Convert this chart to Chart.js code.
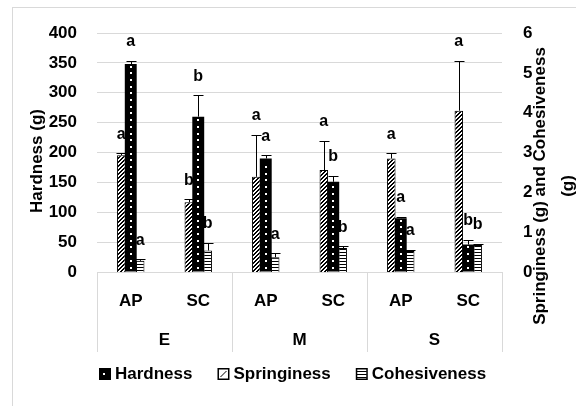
<!DOCTYPE html>
<html>
<head>
<meta charset="utf-8">
<script src="https://cdn.jsdelivr.net/npm/chart.js@4.4.1/dist/chart.umd.min.js"></script>
<style>
  html, body { margin: 0; padding: 0; background: #fff; }
  #wrap { width: 576px; height: 406px; position: relative; }
</style>
</head>
<body>
<div id="wrap"><canvas id="chart"></canvas></div>
<script>
// Texture profile by storage group (E, M, S) and treatment (AP, SC)
const groups = ['E', 'M', 'S'];
const treatments = ['AP', 'SC', 'AP', 'SC', 'AP', 'SC'];

const hardness = [348, 260, 190, 151, 90, 46];
const hardnessErr = [5, 36, 5, 10, 2, 8];
const springiness = [2.93, 1.75, 2.39, 2.56, 2.85, 4.05];
const springinessErr = [0.05, 0.08, 1.05, 0.73, 0.13, 1.25];
const cohesiveness = [0.28, 0.54, 0.37, 0.60, 0.53, 0.68];
const cohesivenessErr = [0.04, 0.20, 0.10, 0.05, 0.03, 0.03];

const hardnessLetters = ['a', 'b', 'a', 'b', 'a', 'b'];
const springinessLetters = ['a', 'b', 'a', 'a', 'a', 'a'];
const cohesivenessLetters = ['a', 'b', 'a', 'b', 'a', 'b'];

const leftTicks = [0, 50, 100, 150, 200, 250, 300, 350, 400];
const rightTicks = [0, 1, 2, 3, 4, 5, 6];

const FONT = "'Liberation Sans', Arial, sans-serif";
const GRID = '#d9d9d9';

// Fill textures
function makePattern(kind) {
  const c = document.createElement('canvas');
  const g = c.getContext('2d');
  if (kind === 'diag') {
    c.width = 4; c.height = 4;
    g.fillStyle = '#fff'; g.fillRect(0, 0, 4, 4);
    g.fillStyle = '#000';
    // stair-stepped upward diagonal, two pixels thick
    for (let k = 0; k < 4; k++) {
      g.fillRect(k, 3 - k, 1, 1);
      g.fillRect((k + 1) % 4, 3 - k, 1, 1);
    }
  } else {
    c.width = 2; c.height = 3;
    g.fillStyle = '#fff'; g.fillRect(0, 0, 2, 3);
    g.fillStyle = '#000'; g.fillRect(0, 0, 2, 1);
  }
  return g.createPattern(c, 'repeat');
}
const ctxMain = document.getElementById('chart').getContext('2d');
const diagPattern = makePattern('diag');
const stripePattern = makePattern('stripe');

// Error bars, significance letters and dotted texture of the hardness bars
const overlayPlugin = {
  id: 'overlay',
  afterDatasetsDraw(chart) {
    const ctx = chart.ctx;
    chart.data.datasets.forEach((ds, di) => {
      const meta = chart.getDatasetMeta(di);
      const scale = chart.scales[ds.yAxisID];
      meta.data.forEach((el, i) => {
        ctx.save();
        if (ds.dotted) {
          ctx.fillStyle = '#fff';
          for (let y = el.base - 4; y > el.y + 2; y -= 6.7) {
            ctx.fillRect(Math.round(el.x) - 1, Math.round(y) - 1, 2, 2);
          }
        }
        const yTop = scale.getPixelForValue(ds.data[i] + ds.errors[i]);
        const x = Math.round(el.x) + 0.5;
        ctx.strokeStyle = '#000';
        ctx.lineWidth = 1;
        ctx.beginPath();
        ctx.moveTo(x, el.y);
        ctx.lineTo(x, Math.round(yTop) + 0.5);
        ctx.moveTo(x - 5, Math.round(yTop) + 0.5);
        ctx.lineTo(x + 5, Math.round(yTop) + 0.5);
        ctx.stroke();
        ctx.fillStyle = '#000';
        ctx.font = 'bold 16px ' + FONT;
        ctx.textAlign = 'center';
        ctx.textBaseline = 'middle';
        ctx.fillText(ds.letters[i], el.x, yTop - 19);
        ctx.restore();
      });
    });
  },
  beforeDraw(chart) {
    const ctx = chart.ctx;
    ctx.save();
    ctx.strokeStyle = GRID;
    ctx.lineWidth = 1;
    ctx.strokeRect(12.5, 7.5, 700, 500);
    ctx.restore();
  },
  afterDraw(chart) {
    const ctx = chart.ctx;
    const area = chart.chartArea;
    const xg = chart.scales.xg;
    ctx.save();
    // group dividers of the two-level category axis
    ctx.strokeStyle = GRID;
    ctx.lineWidth = 1;
    ctx.beginPath();
    for (let g = 0; g <= groups.length; g++) {
      const x = Math.round(xg.left + g * xg.width / groups.length) + 0.5;
      ctx.moveTo(x, area.bottom);
      ctx.lineTo(x, xg.bottom - 8);
    }
    ctx.stroke();

    // axis titles
    ctx.fillStyle = '#000';
    ctx.font = 'bold 17px ' + FONT;
    ctx.textAlign = 'center';
    ctx.textBaseline = 'middle';
    ctx.save();
    ctx.translate(37, 161);
    ctx.rotate(-Math.PI / 2);
    ctx.fillText('Hardness (g)', 0, 0);
    ctx.restore();
    ctx.save();
    ctx.translate(540, 186);
    ctx.rotate(-Math.PI / 2);
    ctx.fillText('Springiness (g) and Cohesiveness', 0, 0);
    ctx.fillText('(g)', 0, 28);
    ctx.restore();

    // legend
    const items = [
      { label: 'Hardness', kind: 'solid' },
      { label: 'Springiness', kind: 'diag' },
      { label: 'Cohesiveness', kind: 'stripe' }
    ];
    ctx.font = 'bold 17px ' + FONT;
    const box = 12, gapText = 4, gapItem = 25;
    let total = 0;
    items.forEach((it, k) => {
      it.w = ctx.measureText(it.label).width;
      total += box + gapText + it.w + (k < items.length - 1 ? gapItem : 0);
    });
    let x = Math.round(293 - total / 2);
    const cy = 374;
    items.forEach((it) => {
      const bx = x, by = cy - 6;
      if (it.kind === 'solid') {
        ctx.fillStyle = '#000';
        ctx.fillRect(bx, by, box, box);
        ctx.fillStyle = '#fff';
        ctx.fillRect(bx + 4, by + 5, 2, 2);
      } else {
        ctx.fillStyle = '#fff';
        ctx.fillRect(bx, by, box, box);
        ctx.strokeStyle = '#000';
        ctx.lineWidth = 1.5;
        ctx.strokeRect(bx + 0.75, by + 0.75, box - 1.5, box - 1.5);
        ctx.beginPath();
        if (it.kind === 'diag') {
          ctx.moveTo(bx + 3, by + box - 3);
          ctx.lineTo(bx + box - 3, by + 3);
        } else {
          for (let k = 1; k <= 3; k++) {
            ctx.moveTo(bx + 1, by + k * 3 + 0.5);
            ctx.lineTo(bx + box - 1, by + k * 3 + 0.5);
          }
        }
        ctx.lineWidth = 1;
        ctx.stroke();
      }
      ctx.fillStyle = '#000';
      ctx.textAlign = 'left';
      ctx.textBaseline = 'middle';
      ctx.fillText(it.label, x + box + gapText, cy);
      x += box + gapText + it.w + gapItem;
    });
    ctx.restore();
  }
};

const tickFont = { family: FONT, size: 17, weight: 'bold' };

new Chart(ctxMain, {
  type: 'bar',
  data: {
    labels: treatments,
    datasets: [
      {
        label: 'Springiness', data: springiness, errors: springinessErr, letters: springinessLetters,
        yAxisID: 'y2', backgroundColor: diagPattern, borderColor: '#000', borderWidth: 1,
        barPercentage: 0.9, categoryPercentage: 0.42
      },
      {
        label: 'Hardness', data: hardness, errors: hardnessErr, letters: hardnessLetters, dotted: true,
        yAxisID: 'y', backgroundColor: '#000', borderWidth: 0,
        barPercentage: 1.26, categoryPercentage: 0.42
      },
      {
        label: 'Cohesiveness', data: cohesiveness, errors: cohesivenessErr, letters: cohesivenessLetters,
        yAxisID: 'y2', backgroundColor: stripePattern, borderColor: '#000', borderWidth: 1,
        barPercentage: 0.9, categoryPercentage: 0.42
      }
    ]
  },
  options: {
    responsive: true,
    maintainAspectRatio: false,
    devicePixelRatio: 1,
    animation: false,
    layout: { padding: { top: 33, left: 0, right: 0, bottom: 46 } },
    plugins: { legend: { display: false }, tooltip: { enabled: false } },
    scales: {
      x: {
        type: 'category',
        grid: { display: false, drawTicks: false },
        border: { display: true, color: GRID },
        ticks: { font: tickFont, color: '#000', padding: 19, maxRotation: 0, autoSkip: false },
        afterFit(s) { s.height = 40; }
      },
      xg: {
        type: 'category',
        labels: groups,
        position: 'bottom',
        offset: true,
        weight: 1,
        grid: { display: false, drawTicks: false },
        border: { display: false },
        ticks: { font: tickFont, color: '#000', padding: 18, maxRotation: 0 },
        afterFit(s) { s.height = 48; }
      },
      y: {
        position: 'left',
        min: 0, max: 400,
        afterBuildTicks(s) { s.ticks = leftTicks.map(v => ({ value: v })); },
        grid: { color: GRID, drawTicks: false, lineWidth: 1 },
        border: { display: false },
        ticks: { font: tickFont, color: '#000', padding: 20 },
        afterFit(s) { s.width = 97; }
      },
      y2: {
        position: 'right',
        min: 0, max: 6,
        afterBuildTicks(s) { s.ticks = rightTicks.map(v => ({ value: v })); },
        grid: { display: false, drawTicks: false },
        border: { display: false },
        ticks: { font: tickFont, color: '#000', padding: 21 },
        afterFit(s) { s.width = 74; }
      }
    }
  },
  plugins: [overlayPlugin]
});
</script>
</body>
</html>
